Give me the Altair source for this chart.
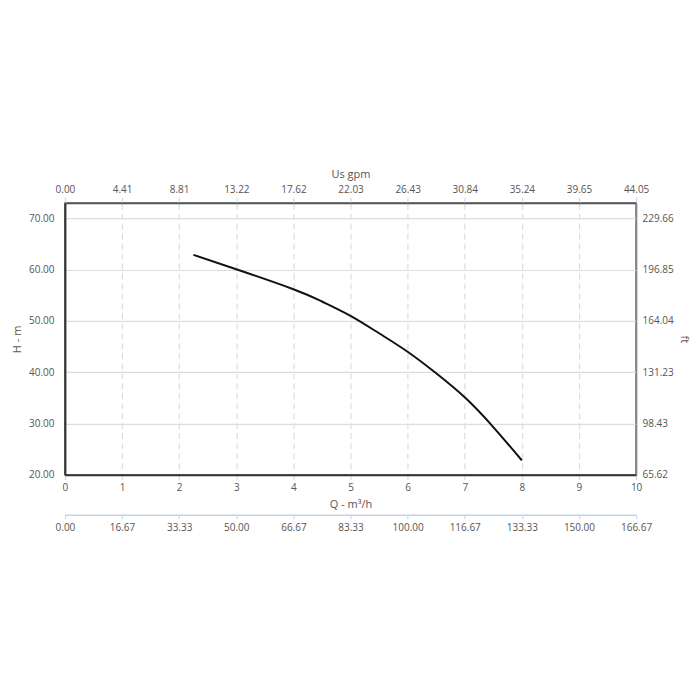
import altair as alt
import pandas as pd

# Pump curve (Q in m³/h, H in m)
Q = [2.25, 3.0, 4.0, 4.5, 5.0, 5.5, 6.0, 6.5, 7.0, 7.5, 8.0]
H = [62.9, 60.1, 56.2, 53.8, 51.0, 47.6, 44.0, 39.8, 35.1, 29.3, 22.8]

q_ticks = [0, 1, 2, 3, 4, 5, 6, 7, 8, 9, 10]
h_ticks = [20, 30, 40, 50, 60, 70]
gpm_ticks = [0.00, 4.41, 8.81, 13.22, 17.62, 22.03, 26.43, 30.84, 35.24, 39.65, 44.05]
ft_ticks = [65.62, 98.43, 131.23, 164.04, 196.85, 229.66]
lmin_ticks = [0.00, 16.67, 33.33, 50.00, 66.67, 83.33, 100.00, 116.67, 133.33, 150.00, 166.67]

H_MAX = 73.0
FT_MAX = H_MAX * 3.28084

FONT = "Open Sans"
LAB = "#555555"
BLUE = "#c3d4e6"

common = dict(labelFont=FONT, titleFont=FONT, labelFontSize=10, titleFontSize=11,
              labelColor=LAB, titleColor=LAB, titleFontWeight="normal")

curve = alt.Chart(pd.DataFrame({"Q": Q, "H": H})).mark_line(
    color="#111111", strokeWidth=2, interpolate="natural"
).encode(
    x=alt.X("Q:Q", scale=alt.Scale(domain=[0, 10], nice=False, zero=False),
            axis=alt.Axis(orient="bottom", values=q_ticks, format="d", title="Q - m³/h",
                          grid=True, gridDash=[6, 4], gridColor="#d6d6d6", gridWidth=1,
                          domainColor="#333333", domainWidth=2, tickColor=BLUE, tickSize=5,
                          labelPadding=3, titlePadding=6, labelFlush=False, **common)),
    y=alt.Y("H:Q", scale=alt.Scale(domain=[20, H_MAX], nice=False, zero=False),
            axis=alt.Axis(orient="left", values=h_ticks, format=".2f", title="H - m",
                          grid=True, gridColor="#dddddd", gridWidth=1.2,
                          domainColor="#333333", domainWidth=2, ticks=False,
                          labelPadding=11, titlePadding=6, **common)),
)

top_axis = alt.Chart(pd.DataFrame({"gpm": gpm_ticks})).mark_point(opacity=0).encode(
    x=alt.X("gpm:Q", scale=alt.Scale(domain=[0, 44.05], nice=False, zero=False),
            axis=alt.Axis(orient="top", values=gpm_ticks, format=".2f", title="Us gpm",
                          grid=False, domainColor="#555555", domainWidth=1.5,
                          tickColor=BLUE, tickSize=6, labelPadding=3, titlePadding=5,
                          labelFlush=False, **common)),
)

right_axis = alt.Chart(pd.DataFrame({"ft": ft_ticks})).mark_point(opacity=0).encode(
    y=alt.Y("ft:Q", scale=alt.Scale(domain=[65.62, FT_MAX], nice=False, zero=False),
            axis=alt.Axis(orient="right", values=ft_ticks, format=".2f", title="ft",
                          grid=False, domainColor="#888888", domainWidth=1.5, ticks=False,
                          labelPadding=6, titlePadding=5, **common)),
)

lmin_axis = alt.Chart(pd.DataFrame({"lmin": lmin_ticks})).mark_point(opacity=0).encode(
    x=alt.X("lmin:Q", scale=alt.Scale(domain=[0, 166.67], nice=False, zero=False),
            axis=alt.Axis(orient="bottom", offset=40, values=lmin_ticks, format=".2f", title=None,
                          grid=False, domainColor=BLUE, domainWidth=1.5, tickColor=BLUE,
                          tickSize=4, labelPadding=4, labelFlush=False, **common)),
)

chart = alt.layer(curve, top_axis, right_axis, lmin_axis).resolve_scale(
    x="independent", y="independent"
).properties(
    width=572, height=272,
    padding={"left": 3, "top": 160, "right": 2, "bottom": 5},
    background="white",
).configure_view(stroke="#555555", strokeWidth=1.5)

chart.save("out.html", embed_options={"renderer": "svg", "actions": False})
